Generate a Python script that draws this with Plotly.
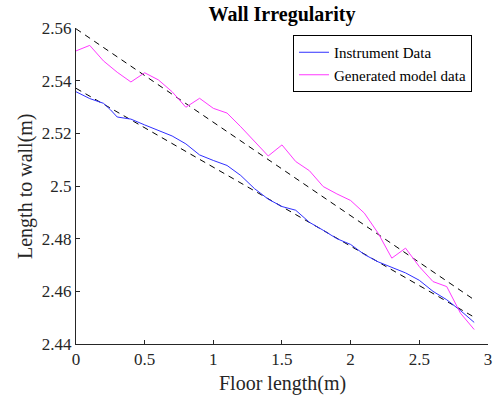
import plotly.graph_objects as go

# Instrument data (blue)
inst_x = [0, 0.1, 0.2, 0.25, 0.3, 0.4, 0.5, 0.6, 0.7, 0.8, 0.9, 1.0, 1.1, 1.2, 1.3, 1.4,
          1.5, 1.6, 1.7, 1.8, 1.9, 2.0, 2.1, 2.2, 2.3, 2.4, 2.5, 2.6, 2.7, 2.8, 2.9]
inst_y = [2.5358, 2.5332, 2.5314, 2.5290, 2.5262, 2.5254, 2.5232, 2.5211, 2.5190, 2.5160,
          2.5118, 2.5097, 2.5078, 2.5040, 2.4990, 2.4950, 2.4922, 2.4908, 2.4862, 2.4832,
          2.4800, 2.4778, 2.4740, 2.4712, 2.4692, 2.4670, 2.4642, 2.4600, 2.4568, 2.4527,
          2.4482]

# Generated model data (magenta)
model_x = [0, 0.1, 0.2, 0.3, 0.4, 0.5, 0.6, 0.7, 0.8, 0.9, 1.0, 1.1, 1.2, 1.3, 1.4,
           1.5, 1.6, 1.7, 1.8, 1.9, 2.0, 2.1, 2.2, 2.3, 2.4, 2.5, 2.6, 2.7, 2.8, 2.9]
model_y = [2.5513, 2.5534, 2.5475, 2.5432, 2.5395, 2.5430, 2.5403, 2.5358, 2.5299, 2.5333,
           2.5295, 2.5277, 2.5225, 2.5168, 2.5114, 2.5156, 2.5093, 2.5058, 2.4998, 2.4970,
           2.4945, 2.4897, 2.4821, 2.4726, 2.4764, 2.4694, 2.4637, 2.4618, 2.4517, 2.4455]

# Linear fit end points (dashed)
fit_x = [0, 2.9]
fit_inst_y = [2.5371, 2.4502]
fit_model_y = [2.5597, 2.4568]

x_ticks = [0, 0.5, 1, 1.5, 2, 2.5, 3]
x_tick_text = ["0", "0.5", "1", "1.5", "2", "2.5", "3"]
y_ticks = [2.44, 2.46, 2.48, 2.50, 2.52, 2.54, 2.56]
y_tick_text = ["2.44", "2.46", "2.48", "2.5", "2.52", "2.54", "2.56"]

serif = "Liberation Serif, Times New Roman, serif"
W, H = 496, 403
L, T = 76, 28
pw, ph = 412, 316
R = W - L - pw
B = H - T - ph

fig = go.Figure()
fig.add_trace(go.Scatter(x=fit_x, y=fit_model_y, mode="lines",
                         line=dict(color="black", width=1, dash="6px,5px"),
                         showlegend=False, hoverinfo="skip"))
fig.add_trace(go.Scatter(x=fit_x, y=fit_inst_y, mode="lines",
                         line=dict(color="black", width=1, dash="6px,5px"),
                         showlegend=False, hoverinfo="skip"))
fig.add_trace(go.Scatter(x=inst_x, y=inst_y, mode="lines", name="Instrument Data",
                         line=dict(color="#3030ff", width=1)))
fig.add_trace(go.Scatter(x=model_x, y=model_y, mode="lines", name="Generated model data",
                         line=dict(color="#ff38ff", width=1)))

fig.update_layout(
    width=W, height=H,
    margin=dict(l=L, r=R, t=T, b=B, autoexpand=False),
    paper_bgcolor="white", plot_bgcolor="white",
    font=dict(family=serif, size=17, color="#262626"),
    title=dict(text="<b>Wall Irregularity</b>", x=(L + pw / 2) / W, xanchor="center",
               y=1 - 14 / H, yanchor="middle", pad=dict(t=0, b=0),
               font=dict(family=serif, size=20, color="black")),
    legend=dict(x=(293 - L) / pw, y=(T + ph - 35) / ph, xanchor="left", yanchor="top",
                bordercolor="black", borderwidth=1, bgcolor="white",
                font=dict(family=serif, size=15, color="black"),
                itemwidth=30, tracegroupgap=0),
    annotations=[
        dict(text="Floor length(m)", xref="paper", yref="paper",
             x=0.5, y=-(383 - (T + ph)) / ph, xanchor="center", yanchor="middle",
             showarrow=False, font=dict(family=serif, size=20, color="#262626")),
        dict(text="Length to wall(m)", xref="paper", yref="paper", textangle=-90,
             x=-(L - 25) / pw, y=0.5, xanchor="center", yanchor="middle",
             showarrow=False, font=dict(family=serif, size=20, color="#262626")),
    ],
)
fig.update_xaxes(range=[0, 3.0005], tickvals=x_ticks, ticktext=x_tick_text,
                 ticks="inside", ticklen=4, tickcolor="#262626", automargin=False,
                 showline=True, linecolor="#262626", linewidth=1,
                 showgrid=False, zeroline=False)
fig.update_yaxes(range=[2.44, 2.56], tickvals=y_ticks, ticktext=y_tick_text,
                 ticks="inside", ticklen=4, tickcolor="#262626", automargin=False,
                 showline=True, linecolor="#262626", linewidth=1,
                 showgrid=False, zeroline=False)

fig.write_html("out.html", config={"displayModeBar": False},
               post_script="document.body.style.margin='0';document.body.style.overflow='hidden';")
